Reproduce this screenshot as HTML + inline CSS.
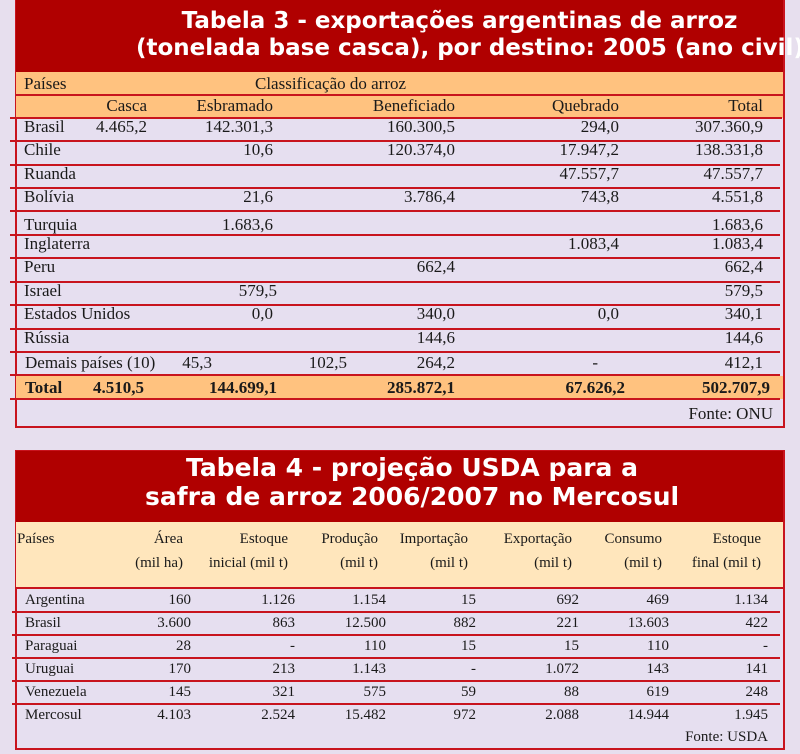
<!DOCTYPE html>
<html><head><meta charset="utf-8">
<style>
body{margin:0;width:800px;height:754px;background:#e7dfee;position:relative;overflow:hidden;font-family:"Liberation Serif",serif;color:#1a1a1a}
.abs{position:absolute}
.box{position:absolute;border:2px solid #c8141e;box-sizing:border-box;background:#e6dff0}
.band{position:absolute;background:#b00000;color:#fff;font-family:"DejaVu Sans",sans-serif;font-weight:bold;font-size:20px;line-height:26px;text-align:center;white-space:nowrap}
.hl{position:absolute;left:10px;width:772px;height:2px;background:#c8141e}
.t3{position:absolute;font-size:17px;line-height:22px;white-space:nowrap}
.t4{position:absolute;font-size:15px;line-height:20px;white-space:nowrap}
.r{text-align:right}
</style></head><body>
<div class="box" style="left:15px;top:-2px;width:770px;height:430px"></div>
<div class="band" style="left:16px;top:0;width:767px;height:72px;padding-top:8px;box-sizing:border-box;padding-left:120px;font-size:23px;line-height:27px">Tabela 3 - exportações argentinas de arroz<br>(tonelada base casca), por destino: 2005 (ano civil)</div>
<div class="abs" style="left:16px;top:72px;width:767px;height:46px;background:#ffc27f"></div>
<div class="hl" style="top:94px;left:16px;width:767px"></div>
<div class="hl" style="top:117px"></div>
<div class="abs" style="left:16px;top:376px;width:767px;height:23px;background:#ffc27f"></div>
<div class="box" style="left:15px;top:450px;width:770px;height:300px"></div>
<div class="band" style="left:16px;top:451px;width:767px;height:71px;padding-top:2px;box-sizing:border-box;padding-left:25px;font-size:25px;line-height:29px">Tabela 4 - projeção USDA para a<br>safra de arroz 2006/2007 no Mercosul</div>
<div class="abs" style="left:16px;top:522px;width:767px;height:66px;background:#ffe6bc"></div>
<div class="hl" style="top:587px;left:16px;width:767px"></div>
<script>
function txt(parent,cls,t,x,y,right,name,bold){
  const d=document.createElement('div');
  d.className=cls+(right?' r':'');
  d.textContent=t;
  
  
  d.style.top=y+'px';
  if(right){d.style.right=(800-x)+'px';}else{d.style.left=x+'px';}
  if(bold)d.style.fontWeight='bold';
  document.body.appendChild(d);
}
function line(y,x1,x2){
  const d=document.createElement('div');
  d.className='hl';
  
  
  d.style.top=y+'px';d.style.left=x1+'px';d.style.width=(x2-x1)+'px';
  document.body.appendChild(d);
}
// Table 3
txt(0,'t3','Países',24,73,false,'header-paises');
txt(0,'t3','Classificação do arroz',255,73,false,'header-classificacao');
const h3=['Casca','Esbramado','Beneficiado','Quebrado','Total'];
const x3=[147,273,455,619,763];
h3.forEach((h,i)=>txt(0,'t3',h,x3[i],95,true,'header-'+h.toLowerCase()));
const rows3=[
['Brasil','4.465,2','142.301,3','160.300,5','294,0','307.360,9'],
['Chile','','10,6','120.374,0','17.947,2','138.331,8'],
['Ruanda','','','','47.557,7','47.557,7'],
['Bolívia','','21,6','3.786,4','743,8','4.551,8'],
['Turquia','','1.683,6','','','1.683,6'],
['Inglaterra','','','','1.083,4','1.083,4'],
['Peru','','','662,4','','662,4'],
['Israel','','579,5','','','579,5'],
['Estados Unidos','','0,0','340,0','0,0','340,1'],
['Rússia','','','144,6','','144,6']];
const xs3=[[147,273,455,619,763],[147,273,455,619,763],[147,273,455,619,763],[147,273,455,619,763],[147,273,455,619,763],[147,273,455,619,763],[147,273,455,619,763],[147,277,455,619,763],[147,273,455,619,763],[147,273,455,619,763]];
const ys3=[118,141,165,188,212,235,258,282,305,329];
const lines3=[141,165,188,211,235,258,282,305,329,352,375,399];
lines3.forEach(y=>line(y-1,10,780));
rows3.forEach((r,i)=>{
  const y=ys3[i]-2+(i==4?4:0);
  txt(0,'t3',r[0],24,y,false,'row-label-'+i);
  for(let c=1;c<6;c++){ if(r[c]) txt(0,'t3',r[c],xs3[i][c-1],y,true,'cell-'+i+'-'+c); }
});
txt(0,'t3','Demais países (10)',25,352,false,'row-label-demais');
[['45,3',212],['102,5',347],['264,2',455],['-',598],['412,1',763]].forEach((v,i)=>txt(0,'t3',v[0],v[1],352,true,'cell-demais-'+i));
txt(0,'t3','Total',25,377,false,'total-label',true);
[['4.510,5',144],['144.699,1',277],['285.872,1',455],['67.626,2',625],['502.707,9',770]].forEach((v,i)=>txt(0,'t3',v[0],v[1],377,true,'total-'+i,true));
txt(0,'t3','Fonte: ONU',773,403,true,'source-onu');
// Table 4
txt(0,'t4','Países',17,529,false,'t4-header-paises');
const h4a=['Área','Estoque','Produção','Importação','Exportação','Consumo','Estoque'];
const h4b=['(mil ha)','inicial (mil t)','(mil t)','(mil t)','(mil t)','(mil t)','final (mil t)'];
const x4=[183,288,378,468,572,662,761];
h4a.forEach((h,i)=>txt(0,'t4',h,x4[i],529,true,'t4-header-'+i));
h4b.forEach((h,i)=>txt(0,'t4',h,x4[i],553,true,'t4-unit-'+i));
const rows4=[
['Argentina','160','1.126','1.154','15','692','469','1.134'],
['Brasil','3.600','863','12.500','882','221','13.603','422'],
['Paraguai','28','-','110','15','15','110','-'],
['Uruguai','170','213','1.143','-','1.072','143','141'],
['Venezuela','145','321','575','59','88','619','248'],
['Mercosul','4.103','2.524','15.482','972','2.088','14.944','1.945']];
const xd4=[191,295,386,476,579,669,768];
[611,634,657,680,703].forEach(y=>line(y,12,780));
rows4.forEach((r,i)=>{
  const y=590+i*23;
  txt(0,'t4',r[0],25,y,false,'t4-row-'+i);
  for(let c=1;c<8;c++) txt(0,'t4',r[c],xd4[c-1],y,true,'t4-cell-'+i+'-'+c);
});
txt(0,'t4','Fonte: USDA',768,727,true,'source-usda');
</script>
</body></html>
